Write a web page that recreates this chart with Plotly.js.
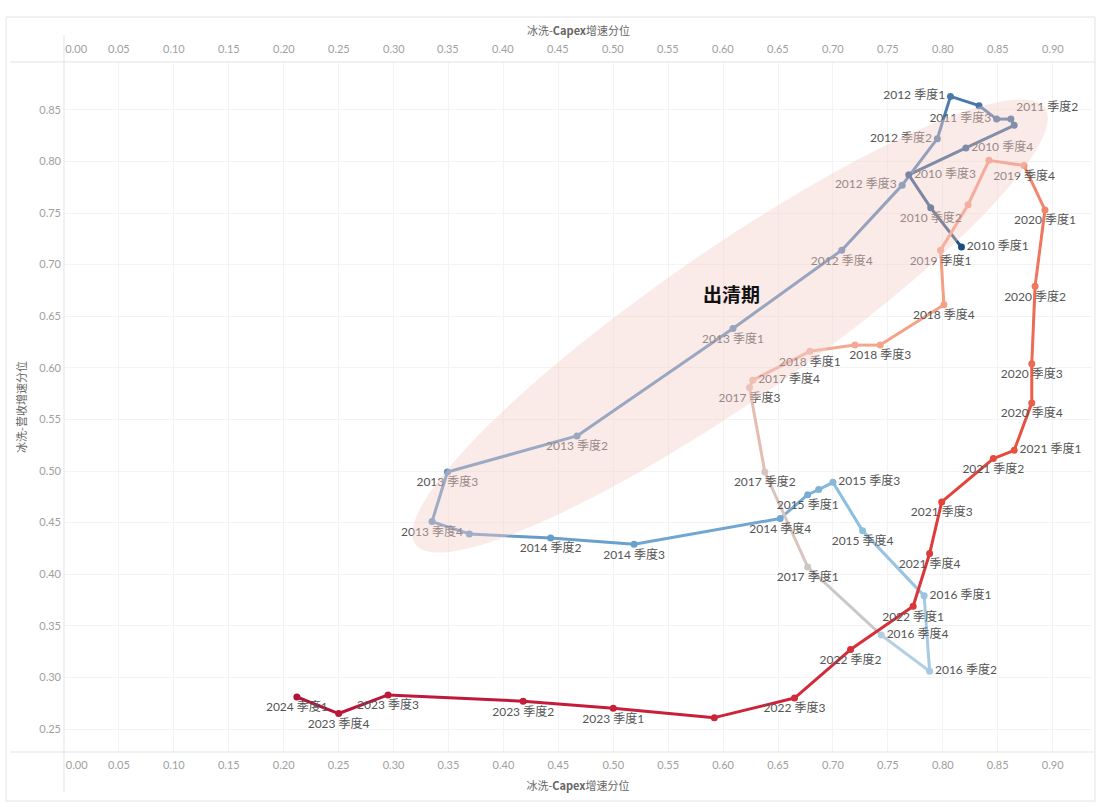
<!DOCTYPE html>
<html>
<head>
<meta charset="utf-8">
<script src="https://cdn.plot.ly/plotly-3.0.1.min.js"></script>
<style>html,body{margin:0;padding:0;background:#fff;}#chart{width:1101px;height:807px;}</style>
</head>
<body>
<div id="chart"></div>
<script>
// ---- data ----
const quarters = [
  '2010 季度1','2010 季度2','2010 季度3','2010 季度4',
  '2011 季度1','2011 季度2','2011 季度3','2011 季度4',
  '2012 季度1','2012 季度2','2012 季度3','2012 季度4',
  '2013 季度1','2013 季度2','2013 季度3','2013 季度4',
  '2014 季度1','2014 季度2','2014 季度3','2014 季度4',
  '2015 季度1','2015 季度2','2015 季度3','2015 季度4',
  '2016 季度1','2016 季度2','2016 季度4',
  '2017 季度1','2017 季度2','2017 季度3','2017 季度4',
  '2018 季度1','2018 季度2','2018 季度3','2018 季度4',
  '2019 季度1','2019 季度2','2019 季度3','2019 季度4',
  '2020 季度1','2020 季度2','2020 季度3','2020 季度4',
  '2021 季度1','2021 季度2','2021 季度3','2021 季度4',
  '2022 季度1','2022 季度2','2022 季度3','2022 季度4',
  '2023 季度1','2023 季度2','2023 季度3','2023 季度4',
  '2024 季度1'
];
const capexPct = [
  0.817, 0.789, 0.769, 0.821,
  0.865, 0.862, 0.849, 0.833,
  0.807, 0.795, 0.763, 0.708,
  0.609, 0.467, 0.349, 0.335,
  0.369, 0.443, 0.519, 0.652,
  0.677, 0.687, 0.700, 0.727,
  0.783, 0.788, 0.744,
  0.677, 0.638, 0.624, 0.627,
  0.679, 0.720, 0.743, 0.801,
  0.798, 0.823, 0.842, 0.874,
  0.893, 0.884, 0.881, 0.881,
  0.865, 0.846, 0.799, 0.788,
  0.773, 0.716, 0.665, 0.592,
  0.500, 0.418, 0.295, 0.250,
  0.212
];
const revenuePct = [
  0.717, 0.755, 0.787, 0.813,
  0.835, 0.841, 0.841, 0.854,
  0.863, 0.822, 0.777, 0.714,
  0.638, 0.534, 0.499, 0.451,
  0.439, 0.435, 0.429, 0.454,
  0.477, 0.482, 0.489, 0.442,
  0.379, 0.306, 0.341,
  0.407, 0.499, 0.581, 0.588,
  0.616, 0.622, 0.622, 0.661,
  0.714, 0.758, 0.801, 0.796,
  0.753, 0.679, 0.604, 0.566,
  0.520, 0.512, 0.470, 0.420,
  0.369, 0.327, 0.280, 0.261,
  0.270, 0.277, 0.283, 0.265,
  0.281
];
const hiddenLabels = ['2011 季度1','2011 季度4','2014 季度1','2015 季度2','2018 季度2','2019 季度2','2019 季度3','2022 季度4'];
const xTickVals = [0,0.05,0.10,0.15,0.20,0.25,0.30,0.35,0.40,0.45,0.50,0.55,0.60,0.65,0.70,0.75,0.80,0.85,0.90];
const xTickText = ['0.00','0.05','0.10','0.15','0.20','0.25','0.30','0.35','0.40','0.45','0.50','0.55','0.60','0.65','0.70','0.75','0.80','0.85','0.90'];
const yTickVals = [0.25,0.30,0.35,0.40,0.45,0.50,0.55,0.60,0.65,0.70,0.75,0.80,0.85];
const yTickText = ['0.25','0.30','0.35','0.40','0.45','0.50','0.55','0.60','0.65','0.70','0.75','0.80','0.85'];
const xTitle = '冰洗-<b>Capex</b>增速分位';
const yTitle = '冰洗-营收增速分位';
const zoneLabel = '出清期';

// ---- style ----
const labelSide = {
  '2010 季度1':'middle right','2010 季度3':'middle right','2010 季度4':'middle right',
  '2011 季度2':'top right','2011 季度3':'middle left',
  '2012 季度1':'middle left','2012 季度2':'middle left','2012 季度3':'middle left',
  '2015 季度3':'middle right','2016 季度1':'middle right','2016 季度2':'middle right',
  '2016 季度4':'middle right','2017 季度4':'middle right','2021 季度1':'middle right'
};
const colorStops = [
  [0,'#1b4c7e'],[8,'#4a78ab'],[18,'#6aa0cc'],[23,'#8cbfe0'],[26,'#b3cfe2'],
  [27,'#c8c8c8'],[28,'#d9c5bf'],[30,'#efb3a3'],[34,'#f5a186'],[38,'#f4937a'],
  [40,'#ef765f'],[43,'#e8513f'],[47,'#dc3537'],[50,'#cc2439'],[55,'#b5123a']
];
function hex2rgb(h){return [parseInt(h.slice(1,3),16),parseInt(h.slice(3,5),16),parseInt(h.slice(5,7),16)];}
function colorAt(i){
  for(let k=0;k<colorStops.length-1;k++){
    const [i0,c0]=colorStops[k],[i1,c1]=colorStops[k+1];
    if(i>=i0&&i<=i1){
      const t=(i1===i0)?0:(i-i0)/(i1-i0);
      const a=hex2rgb(c0),b=hex2rgb(c1);
      return 'rgb('+a.map((v,j)=>Math.round(v+(b[j]-v)*t)).join(',')+')';
    }
  }
  return colorStops[colorStops.length-1][1];
}
const pointColors = quarters.map((q,i)=>colorAt(i));

// geometry of the plot area (pixels)
const L=64,R=9,T=62,B=55,W=1101,H=807;
const pxPerX=1098.5, pxPerY=1032;
const plotH=H-T-B;
const xRange=[0,(W-R-L)/pxPerX];
const yRange=[0.25-(H-B-729)/pxPerY, 0.25+(729-T)/pxPerY];
function toDataX(px){return (px-L)/pxPerX;}
function toDataY(py){return 0.25+(729-py)/pxPerY;}
function paperY(py){return (H-B-py)/plotH;}

// ellipse (screen-space rotated ellipse converted to data coords)
function ellipsePath(){
  const cx=730, cy=326, a=383, b=75, th=34.7*Math.PI/180;
  const ux=Math.cos(th), uy=-Math.sin(th), nx=Math.sin(th), ny=Math.cos(th);
  let d='';
  for(let k=0;k<=120;k++){
    const p=2*Math.PI*k/120;
    const px=cx+a*Math.cos(p)*ux+b*Math.sin(p)*nx;
    const py=cy+a*Math.cos(p)*uy+b*Math.sin(p)*ny;
    d+=(k===0?'M':'L')+toDataX(px).toFixed(5)+','+toDataY(py).toFixed(5);
  }
  return d+'Z';
}

const traces=[];
for(let i=0;i<quarters.length-1;i++){
  traces.push({
    x:[capexPct[i],capexPct[i+1]], y:[revenuePct[i],revenuePct[i+1]],
    mode:'lines', type:'scatter', line:{color:pointColors[i+1],width:3},
    hoverinfo:'skip', showlegend:false
  });
}
traces.push({
  x:capexPct, y:revenuePct, mode:'markers+text', type:'scatter',
  marker:{size:7,color:pointColors},
  text:quarters.map(q=>hiddenLabels.includes(q)?'':q),
  textposition:quarters.map(q=>labelSide[q]||'bottom center'),
  textfont:{size:12,color:'#555',family:'Lato, "Noto Sans CJK SC", sans-serif'},
  hovertext:quarters, hoverinfo:'text', cliponaxis:false, showlegend:false
});

const tickFont={size:11,color:'#a0a0a0',family:'Lato, "Noto Sans", sans-serif'};
const titleFont={size:11,color:'#666',family:'"Noto Sans CJK SC", Lato, sans-serif'};
const pad='\u00a0\u00a0\u00a0\u00a0\u00a0\u00a0\u00a0\u00a0\u00a0';
const xText=xTickText.map((t,i)=>i===0?pad+t:t);

// top axis (mirrors the bottom axis) as annotations
const topAnn=xTickVals.map((v,i)=>({
  x:v, xref:'x', y:paperY(48), yref:'paper', text:xText[i], showarrow:false,
  xanchor:'center', yanchor:'middle', font:tickFont
}));
topAnn.push({x:0.5, xref:'paper', y:paperY(30), yref:'paper', text:xTitle, showarrow:false,
  xanchor:'center', yanchor:'middle', font:titleFont});

const lineC='#e3e3e3';
const layout={
  width:W,height:H,
  margin:{l:L,r:R,t:T,b:B},
  paper_bgcolor:'#fff',plot_bgcolor:'#fff',
  showlegend:false,
  xaxis:{range:xRange,tickvals:xTickVals,ticktext:xText,tickfont:tickFont,ticklabelstandoff:5,
    showgrid:true,gridcolor:'#f3f3f3',zeroline:false,showline:false,ticks:'',
    title:{text:xTitle,font:titleFont,standoff:12},fixedrange:true},
  yaxis:{range:yRange,tickvals:yTickVals,ticktext:yTickText,tickfont:tickFont,ticklabelstandoff:2,
    showgrid:true,gridcolor:'#f3f3f3',zeroline:false,showline:false,ticks:'',
    title:{text:yTitle,font:titleFont,standoff:10},fixedrange:true},
  shapes:[
    {type:'path',path:ellipsePath(),xref:'x',yref:'y',fillcolor:'rgb(242,205,200)',opacity:0.42,line:{width:0},layer:'above'},
    {type:'rect',xref:'paper',yref:'paper',x0:(6-L)/1028,x1:(1095-L)/1028,y0:paperY(801),y1:paperY(17),line:{color:lineC,width:1},fillcolor:'rgba(0,0,0,0)',layer:'below'},
    {type:'line',xref:'paper',yref:'paper',x0:(10-L)/1028,x1:(1095-L)/1028,y0:1,y1:1,line:{color:lineC,width:1}},
    {type:'line',xref:'paper',yref:'paper',x0:(10-L)/1028,x1:(1095-L)/1028,y0:0,y1:0,line:{color:lineC,width:1}},
    {type:'line',xref:'paper',yref:'paper',x0:0,x1:0,y0:paperY(792),y1:paperY(35),line:{color:lineC,width:1}}
  ],
  annotations:[
    {x:toDataX(731),y:toDataY(293),xref:'x',yref:'y',text:'<b>'+zoneLabel+'</b>',showarrow:false,
     font:{size:19,color:'#111',family:'"Noto Sans CJK SC", sans-serif'}}
  ].concat(topAnn)
};
Plotly.newPlot('chart',traces,layout,{displayModeBar:false,staticPlot:true});
</script>
</body>
</html>
